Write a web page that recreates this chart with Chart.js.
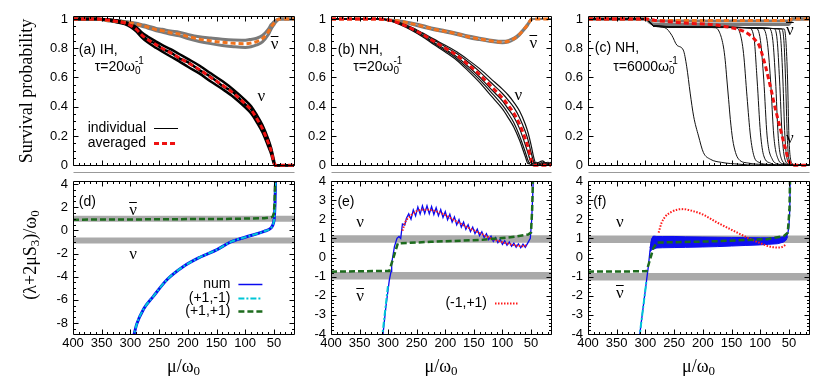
<!DOCTYPE html>
<html>
<head>
<meta charset="utf-8">
<script src="https://cdn.jsdelivr.net/npm/chart.js@4.4.0/dist/chart.umd.min.js"></script>
<style>
  body { margin: 0; background: #fff; width: 830px; height: 386px; overflow: hidden; position: relative; }
  canvas { position: absolute; }
</style>
</head>
<body>
<canvas id="ca" width="300" height="178" style="left:0;top:0"></canvas>
<canvas id="cb" width="260" height="178" style="left:300px;top:0"></canvas>
<canvas id="cc" width="270" height="178" style="left:560px;top:0"></canvas>
<canvas id="cd" width="300" height="218" style="left:0;top:168px"></canvas>
<canvas id="ce" width="260" height="218" style="left:300px;top:168px"></canvas>
<canvas id="cf" width="270" height="218" style="left:560px;top:168px"></canvas>
<script>
// tick labels
const X_TICKS = [400, 350, 300, 250, 200, 150, 100, 50];
const P_TICKS = [0, 0.2, 0.4, 0.6, 0.8, 1];
const D_TICKS = [4, 2, 0, -2, -4, -6, -8];
const E_TICKS = [4, 3, 2, 1, 0, -1, -2, -3, -4];

// (a) IH, tau=20
const A_X = [400, 360, 340, 330, 310, 300, 290, 280, 270, 255, 245, 230, 215, 200, 180, 160, 140, 120, 100, 90, 80, 70, 60, 55, 50, 48, 40, 30, 20, 15];
const A_NU_AVG = [1, 1, 0.995, 0.988, 0.972, 0.955, 0.93, 0.89, 0.86, 0.823, 0.8, 0.768, 0.735, 0.7, 0.655, 0.6, 0.548, 0.49, 0.42, 0.38, 0.32, 0.25, 0.155, 0.1, 0.02, 0, 0, 0, 0, 0];
const A_NU_HI = [1, 1, 0.998, 0.993, 0.98, 0.965, 0.945, 0.907, 0.88, 0.845, 0.823, 0.793, 0.76, 0.727, 0.682, 0.628, 0.575, 0.515, 0.445, 0.405, 0.345, 0.275, 0.18, 0.12, 0.035, 0, 0, 0, 0, 0];
const A_NU_MID = [1, 1, 0.995, 0.99, 0.97, 0.958, 0.928, 0.895, 0.855, 0.83, 0.795, 0.772, 0.73, 0.705, 0.65, 0.605, 0.543, 0.495, 0.415, 0.385, 0.315, 0.255, 0.15, 0.105, 0.02, 0, 0, 0, 0, 0];
const A_NU_LO = [1, 1, 0.992, 0.983, 0.964, 0.945, 0.915, 0.873, 0.84, 0.801, 0.777, 0.743, 0.71, 0.673, 0.628, 0.572, 0.521, 0.465, 0.395, 0.355, 0.295, 0.225, 0.13, 0.08, 0.01, 0, 0, 0, 0, 0];
const A_BAR_AVG = [1, 1, 0.99, 0.985, 0.978, 0.973, 0.965, 0.955, 0.945, 0.927, 0.92, 0.906, 0.897, 0.88, 0.862, 0.85, 0.84, 0.833, 0.83, 0.835, 0.845, 0.865, 0.91, 0.945, 0.97, 0.98, 1, 1, 1, 1];
const A_BAR_HI = [1, 1, 0.992, 0.988, 0.982, 0.977, 0.97, 0.961, 0.952, 0.935, 0.929, 0.917, 0.909, 0.894, 0.878, 0.869, 0.861, 0.856, 0.855, 0.86, 0.868, 0.887, 0.928, 0.96, 0.98, 0.988, 1, 1, 1, 1];
const A_BAR_LO = [1, 1, 0.988, 0.982, 0.974, 0.968, 0.96, 0.949, 0.938, 0.919, 0.911, 0.895, 0.885, 0.866, 0.846, 0.831, 0.819, 0.81, 0.805, 0.81, 0.822, 0.843, 0.892, 0.93, 0.96, 0.972, 1, 1, 1, 1];

// (b) NH, tau=20
const B_X = [400, 320, 300, 280, 260, 240, 220, 200, 180, 160, 140, 120, 100, 90, 80, 70, 60, 55, 50, 45, 40, 30, 20, 15];
const B_NU_AVG = [1, 1, 0.993, 0.97, 0.935, 0.895, 0.847, 0.8, 0.752, 0.688, 0.62, 0.54, 0.46, 0.41, 0.355, 0.28, 0.18, 0.12, 0.04, 0, 0, 0, 0, 0];
const B_NU_1 = [1, 1, 0.995, 0.975, 0.945, 0.905, 0.862, 0.82, 0.775, 0.72, 0.66, 0.59, 0.52, 0.48, 0.43, 0.37, 0.28, 0.22, 0.14, 0.05, 0, 0.01, 0, 0.01];
const B_NU_2 = [1, 1, 0.994, 0.972, 0.94, 0.9, 0.855, 0.81, 0.763, 0.705, 0.64, 0.565, 0.49, 0.445, 0.395, 0.325, 0.23, 0.17, 0.09, 0.02, 0, 0.02, 0.01, 0];
const B_NU_3 = [1, 1, 0.993, 0.968, 0.932, 0.89, 0.84, 0.792, 0.742, 0.675, 0.603, 0.52, 0.44, 0.385, 0.33, 0.25, 0.14, 0.08, 0.02, 0.01, 0.02, 0, 0.01, 0.02];
const B_NU_4 = [1, 1, 0.992, 0.965, 0.928, 0.885, 0.833, 0.783, 0.73, 0.66, 0.585, 0.5, 0.41, 0.355, 0.29, 0.2, 0.09, 0.03, 0, 0.02, 0, 0.01, 0.02, 0];
const B_NU_5 = [1, 1, 0.991, 0.962, 0.924, 0.878, 0.825, 0.774, 0.718, 0.645, 0.566, 0.475, 0.385, 0.325, 0.26, 0.17, 0.06, 0.01, 0.02, 0, 0.01, 0.03, 0, 0.01];
const B_BAR_AVG = [1, 1, 0.993, 0.985, 0.968, 0.95, 0.93, 0.915, 0.898, 0.878, 0.863, 0.85, 0.842, 0.847, 0.864, 0.895, 0.94, 0.965, 0.995, 1, 1, 1, 1, 1];
const B_BAR_HI = [1, 1, 0.996, 0.99, 0.975, 0.958, 0.938, 0.923, 0.906, 0.886, 0.871, 0.858, 0.85, 0.855, 0.872, 0.903, 0.948, 0.973, 1, 1, 1, 1, 1, 1];
const B_BAR_LO = [1, 1, 0.99, 0.98, 0.961, 0.942, 0.922, 0.907, 0.89, 0.87, 0.855, 0.842, 0.834, 0.839, 0.856, 0.887, 0.932, 0.957, 0.99, 1, 1, 1, 1, 1];

// (c) NH, tau=6000
const C_AVG_X = [400, 300, 283, 250, 225, 190, 155, 140, 126, 115, 108, 102, 97, 91, 85, 80, 76, 72, 67.5, 63, 59, 55, 53, 50, 47, 45, 15];
const C_AVG_Y = [1, 1, 0.99, 0.978, 0.97, 0.964, 0.944, 0.93, 0.91, 0.88, 0.853, 0.82, 0.763, 0.68, 0.583, 0.5, 0.425, 0.36, 0.289, 0.22, 0.154, 0.1, 0.063, 0.03, 0.007, 0, 0];
const C_NU_1 = [[400, 1], [300, 1], [292, 0.975], [283, 0.949], [266, 0.94], [254, 0.888], [245, 0.82], [234, 0.787], [228, 0.673], [222, 0.493], [216, 0.335], [207.5, 0.2], [199, 0.087], [187, 0.041], [167, 0.019], [137, 0.007], [108, 0], [15, 0]];
const C_NU_2 = [[400, 1], [300, 1], [292, 0.975], [285, 0.952], [220, 0.945], [178, 0.94], [170, 0.9], [164, 0.808], [161, 0.718], [158, 0.583], [155, 0.448], [152, 0.312], [148, 0.177], [143, 0.087], [137.5, 0.041], [120, 0.014], [97, 0.005], [80, 0], [15, 0]];
const C_NU_3 = [[400, 1], [300, 1], [292, 0.975], [285, 0.952], [200, 0.946], [143, 0.94], [135, 0.9], [129, 0.763], [123, 0.47], [117, 0.2], [111, 0.064], [102, 0.019], [85, 0.005], [70, 0], [15, 0]];
const C_NU_4 = [[400, 1], [300, 1], [292, 0.975], [285, 0.952], [200, 0.946], [120, 0.94], [111, 0.876], [105.4, 0.583], [99.6, 0.222], [93.8, 0.064], [82, 0.014], [70, 0], [15, 0]];
const C_NU_5 = [[400, 1], [300, 1], [292, 0.975], [285, 0.952], [200, 0.945], [108, 0.938], [99.6, 0.853], [93.8, 0.583], [88, 0.2], [79, 0.041], [67.5, 0.007], [60, 0], [15, 0]];
const C_NU_6 = [[400, 1], [300, 1], [292, 0.975], [285, 0.952], [200, 0.944], [97, 0.936], [88, 0.853], [82, 0.583], [76.3, 0.2], [68.7, 0.041], [58.8, 0.007], [50, 0], [15, 0]];
const C_NU_7 = [[400, 1], [300, 1], [292, 0.975], [285, 0.95], [200, 0.943], [85, 0.935], [78, 0.853], [73.3, 0.583], [68.7, 0.2], [62.8, 0.041], [53, 0.007], [46, 0], [15, 0]];
const C_NU_8 = [[400, 1], [300, 1], [292, 0.975], [285, 0.95], [200, 0.943], [76, 0.934], [70.4, 0.853], [66.3, 0.583], [61.7, 0.2], [57, 0.041], [50, 0.007], [45, 0], [15, 0]];
const C_NU_9 = [[400, 1], [300, 1], [292, 0.975], [285, 0.95], [200, 0.942], [68.7, 0.933], [64, 0.853], [60.5, 0.583], [57, 0.2], [53, 0.041], [47, 0.007], [44, 0], [15, 0]];
const C_NU_10 = [[400, 1], [300, 1], [292, 0.975], [285, 0.95], [200, 0.942], [62.8, 0.932], [58.8, 0.853], [55.8, 0.583], [52.9, 0.2], [50, 0.041], [45.3, 0.007], [43, 0], [15, 0]];
const C_NU_11 = [[400, 1], [300, 1], [292, 0.975], [285, 0.95], [200, 0.941], [58.2, 0.931], [55.3, 0.853], [52.3, 0.583], [50, 0.2], [47.1, 0.041], [43, 0.007], [41, 0], [15, 0]];
const C_BAR_X = [400, 300, 292, 285, 200, 100, 60, 50, 47, 45, 30, 15];
const C_BAR_AVG = [1, 1, 0.995, 0.99, 0.99, 0.99, 0.99, 0.99, 0.995, 1, 1, 1];
const C_BAR_HI = [1, 1, 0.99, 0.985, 0.985, 0.985, 0.985, 0.985, 0.99, 1, 1, 1];
const C_BAR_LO = [1, 1, 0.975, 0.962, 0.962, 0.962, 0.962, 0.962, 0.98, 1, 1, 1];

// (d)
const D_NUM_X = [296, 289, 277, 260, 236, 207, 178, 149, 125, 90, 67, 55, 52, 50, 49, 48, 47.3, 47];
const D_NUM_Y = [-9.5, -8.1, -6.8, -5.7, -4.25, -3.1, -2.3, -1.66, -1.0, -0.45, -0.09, 0.2, 0.45, 0.8, 1.3, 2.4, 4, 5];
const D_PM_X = [296, 289, 277, 260, 236, 207, 178, 149, 125, 90, 67, 55, 52, 50, 49, 48, 47.3, 47];
const D_PM_Y = [-9.5, -8.1, -6.8, -5.7, -4.25, -3.1, -2.3, -1.66, -1.0, -0.45, -0.09, 0.2, 0.45, 0.8, 1.3, 2.4, 4, 5];
const D_PP_X = [400, 300, 200, 125, 67, 55, 52, 50, 49, 48, 47.5];
const D_PP_Y = [0.92, 0.94, 0.97, 0.99, 1.05, 1.12, 1.2, 1.5, 2.3, 3.8, 5];

// (e)
const E_NUM_X = [310, 304, 298, 295, 293.8, 289, 284.5, 281, 278, 275, 271, 268, 264, 260, 256, 252, 248, 244, 240, 236, 232, 228, 224, 220, 216, 212, 208, 204, 200, 196, 192, 188, 184, 180, 176, 172, 168, 164, 160, 156, 152, 148, 144, 140, 136, 132, 128, 124, 120, 116, 112, 108, 104, 100, 96, 92, 88, 84, 80, 76, 72, 68, 64, 60, 56, 51.2, 48.8, 47.1, 46, 45.5];
const E_NUM_Y = [-4.3, -2.6, -1.2, -0.74, -0.3, 0.57, 1.0, 1.1, 1.0, 1.75, 1.7, 2.05, 2.28, 2.0, 2.49, 2.18, 2.64, 2.27, 2.7, 2.3, 2.7, 2.29, 2.67, 2.25, 2.6, 2.19, 2.51, 2.09, 2.4, 1.97, 2.26, 1.85, 2.12, 1.71, 1.98, 1.59, 1.85, 1.47, 1.71, 1.36, 1.59, 1.25, 1.48, 1.14, 1.35, 1.04, 1.24, 0.94, 1.12, 0.84, 1.04, 0.77, 0.95, 0.69, 0.87, 0.64, 0.81, 0.59, 0.75, 0.54, 0.71, 0.51, 0.7, 0.53, 0.74, 1.0, 1.96, 3.18, 4.1, 5];
const E_PM_X = [311, 300];
const E_PM_Y = [-4.3, -1.4];
const E_PP_X = [400, 298, 283, 225, 137, 79, 55, 50, 48, 46.5, 45.5];
const E_PP_Y = [-0.74, -0.7, 0.74, 0.82, 0.92, 1.08, 1.2, 1.3, 2.5, 4.2, 5];
const E_MP_X = [275, 270, 260, 250, 240, 230, 220, 210, 200, 190, 180, 170, 160, 150, 140, 130, 120, 110, 100, 90, 80, 70, 65, 60, 57];
const E_MP_Y = [1.4, 1.85, 2.2, 2.42, 2.5, 2.5, 2.45, 2.35, 2.22, 2.05, 1.88, 1.72, 1.56, 1.42, 1.28, 1.14, 1.0, 0.9, 0.8, 0.72, 0.65, 0.6, 0.59, 0.62, 0.68];

// (f)
const F_NUM_X = [311, 298, 295, 292, 289, 286];
const F_NUM_Y = [-4.3, -1.2, -0.5, 0.35, 0.96, 1.1];
const F_SPIKE_X = [55, 52, 50, 48.5, 47.5];
const F_SPIKE_Y = [1.1, 1.25, 1.6, 2.5, 5];
const F_BAND_X = [292, 289, 286, 280, 270, 250, 230, 200, 175, 150, 125, 100, 85, 70, 60, 55, 52];
const F_BAND_HI = [0.5, 0.95, 1.12, 1.1, 1.1, 1.1, 1.08, 1.07, 1.06, 1.05, 1.04, 1.03, 1.03, 1.05, 1.08, 1.15, 1.28];
const F_BAND_LO = [0.3, 0.4, 0.45, 0.5, 0.51, 0.52, 0.53, 0.55, 0.57, 0.6, 0.63, 0.66, 0.69, 0.72, 0.8, 0.9, 1.1];
const F_PM_X = [311, 298];
const F_PM_Y = [-4.3, -1.2];
const F_PP_X = [400, 298, 286, 280, 175, 88, 59, 52, 49, 47.5];
const F_PP_Y = [-0.74, -0.72, 0.5, 0.78, 0.85, 0.96, 1.12, 1.3, 2.5, 5];
const F_MP_X = [277, 272, 265, 255, 245, 234, 220, 200, 175, 150, 130, 117, 100, 88, 78, 70, 62, 56];
const F_MP_Y = [1.3, 1.8, 2.15, 2.38, 2.5, 2.53, 2.45, 2.25, 1.83, 1.45, 1.15, 0.96, 0.75, 0.61, 0.54, 0.52, 0.55, 0.66];

// gray reference bands (nu, nubar)
const BAND_X = [400, 15];
const D_BANDS = [0.99, -0.87];
const E_BANDS = [0.97, -0.95];
const F_BANDS = [0.95, -1.0];

const SANS = '"Liberation Sans", Arial, Helvetica, sans-serif';
const SERIF = '"Liberation Serif", "Times New Roman", serif';
const RED = '#ee1111', ORANGE = '#f0731e', GREY = '#7a7a7a', BAND = '#aaaaaa';
const BLUE = '#0a0aef', CYAN = '#00c6d6', GREEN = '#1d6b1d', DOTRED = '#ff1a1a';
Chart.defaults.font.family = SANS;

function ln(label, xs, ys, color, width, dash, more) {
  const data = ys ? xs.map((x, i) => ({x, y: ys[i]})) : xs.map(([x, y]) => ({x, y}));
  return Object.assign({
    label, data, borderColor: color, backgroundColor: color, borderWidth: width,
    borderDash: dash || [], pointRadius: 0, fill: false, tension: 0,
    clip: {left: 0, right: 0, top: 0, bottom: 0}
  }, more);
}
const TOP = {cubicInterpolationMode: 'monotone', clip: {left: 0, right: 0, top: 0, bottom: 3}};
const SMOOTH = {cubicInterpolationMode: 'monotone'};

// draws text pieces with sub/superscripts; stacked pieces start where the previous one started
function rich(ctx, x, y, parts, fam, draw) {
  let start = x, end = x;
  for (const [t, size, dy = 0, stack = false] of parts) {
    ctx.font = size + 'px ' + fam;
    const w = ctx.measureText(t).width;
    const sx = stack ? start : end;
    if (draw) ctx.fillText(t, sx, y + dy);
    if (!stack) start = end;
    end = Math.max(end, sx + w);
  }
  return end - x;
}

// gnuplot style frame, inward ticks, labels, keys
const deco = {
  id: 'deco',
  afterDatasetsDraw(chart, args, o) {
    const {ctx, chartArea: a} = chart;
    const sx = chart.scales.x, sy = chart.scales.y;
    const L = Math.round(a.left) + 0.5, R = Math.round(a.right) + 0.5;
    const T = Math.round(a.top) + 0.5, B = Math.round(a.bottom) + 0.5;
    ctx.save();
    ctx.strokeStyle = '#000';
    ctx.lineWidth = 1;
    ctx.setLineDash([]);
    ctx.beginPath();
    ctx.rect(L, T, R - L, B - T);
    for (let v = 20; v < 400; v += 10) {
      const p = Math.round(sx.getPixelForValue(v)) + 0.5, n = v % 50 ? 2.5 : 5;
      ctx.moveTo(p, B); ctx.lineTo(p, B - n);
      ctx.moveTo(p, T); ctx.lineTo(p, T + n);
    }
    const k0 = Math.ceil(sy.min / o.yMinor - 1e-6), k1 = Math.floor(sy.max / o.yMinor + 1e-6);
    for (let k = k0; k <= k1; k++) {
      const v = k * o.yMinor, r = v / o.yMajor;
      const n = Math.abs(r - Math.round(r)) < 1e-6 ? 5 : 2.5;
      const p = Math.round(sy.getPixelForValue(v)) + 0.5;
      ctx.moveTo(L, p); ctx.lineTo(L + n, p);
      ctx.moveTo(R, p); ctx.lineTo(R - n, p);
    }
    ctx.stroke();

    ctx.fillStyle = '#000';
    for (const t of o.texts || []) {
      const px = sx.getPixelForValue(t.x), py = sy.getPixelForValue(t.y);
      const fam = t.serif ? SERIF : SANS;
      const w = rich(ctx, 0, 0, t.parts, fam, false);
      const x0 = t.center ? px - w / 2 : px;
      ctx.textBaseline = t.serif ? 'alphabetic' : 'middle';
      rich(ctx, x0, t.serif ? py + 4 : py, t.parts, fam, true);
      if (t.bar) {
        ctx.beginPath();
        ctx.moveTo(x0, Math.round(py - 9) + 0.5);
        ctx.lineTo(x0 + w, Math.round(py - 9) + 0.5);
        ctx.stroke();
      }
    }

    ctx.textBaseline = 'middle';
    for (const g of o.legend || []) {
      const ds = chart.data.datasets.find(d => d.label === g.label);
      const px = sx.getPixelForValue(g.x), py = Math.round(sy.getPixelForValue(g.y)) + 0.5;
      ctx.font = '14px ' + SANS;
      ctx.textAlign = 'right';
      ctx.fillText(g.label, px, py);
      ctx.textAlign = 'left';
      ctx.save();
      ctx.strokeStyle = ds.borderColor;
      ctx.lineWidth = g.w || ds.borderWidth;
      ctx.setLineDash(ds.borderDash || []);
      ctx.beginPath();
      ctx.moveTo(px + 8, py); ctx.lineTo(px + 32, py);
      ctx.stroke();
      ctx.restore();
    }

    if (o.yTitle) {
      ctx.save();
      ctx.translate(o.yTitle.x, o.yTitle.y);
      ctx.rotate(-Math.PI / 2);
      const w = rich(ctx, 0, 0, o.yTitle.parts, SERIF, false);
      rich(ctx, -w / 2, 0, o.yTitle.parts, SERIF, true);
      ctx.restore();
    }
    if (o.xTitle) {
      const w = rich(ctx, 0, 0, o.xTitle.parts, SERIF, false);
      rich(ctx, (a.left + a.right) / 2 - w / 2, o.xTitle.y, o.xTitle.parts, SERIF, true);
    }
    if (o.sep) {
      ctx.strokeStyle = '#999';
      ctx.beginPath();
      ctx.moveTo(L, 4.5); ctx.lineTo(R, 4.5);
      ctx.stroke();
    }
    ctx.restore();
  }
};

function panel(id, datasets, yMin, yMax, yTicks, yWidth, xLabels, pad, opts) {
  new Chart(document.getElementById(id), {
    type: 'line',
    data: {datasets},
    options: {
      responsive: false,
      animation: false,
      events: [],
      layout: {padding: pad},
      plugins: {legend: {display: false}, tooltip: {enabled: false}, deco: opts},
      scales: {
        x: {
          type: 'linear', min: 15, max: 400, reverse: true,
          grid: {display: false, drawTicks: false}, border: {display: false},
          afterBuildTicks: s => { s.ticks = X_TICKS.map(v => ({value: v})); },
          afterFit: s => { s.height = xLabels ? 52 : 11; },
          ticks: {display: xLabels, color: '#000', font: {size: 13}, padding: 2, autoSkip: false, maxRotation: 0, callback: v => String(v)}
        },
        y: {
          type: 'linear', min: yMin, max: yMax,
          grid: {display: false, drawTicks: false}, border: {display: false},
          afterBuildTicks: s => { s.ticks = yTicks.map(v => ({value: v})); },
          afterFit: s => { s.width = yWidth; },
          ticks: {color: '#000', font: {size: 13}, padding: 5, callback: v => String(v)}
        }
      }
    },
    plugins: [deco]
  });
}

const tau20 = [['τ=20ω', 14], ['0', 10, 4], ['-1', 10, -6, true]];
const nu = (x, y, bar) => ({x, y, parts: [['ν', 17]], serif: true, center: true, bar});
const muTitle = {y: 199, parts: [['μ/ω', 18], ['0', 13, 5]]};

// top row: survival probability
panel('ca', [
  ln('averaged', A_X, A_NU_AVG, RED, 3, [5, 3], TOP),
  ln('averaged ν̄', A_X, A_BAR_AVG, ORANGE, 3, [5, 3], TOP),
  ln('individual ν 1', A_X, A_NU_HI, '#000', 2.5, null, TOP),
  ln('individual', A_X, A_NU_MID, '#000', 2.5, null, TOP),
  ln('individual ν 3', A_X, A_NU_LO, '#000', 2.5, null, TOP),
  ln('individual ν̄ 1', A_X, A_BAR_HI, GREY, 3, null, TOP),
  ln('individual ν̄ 2', A_X, A_BAR_LO, GREY, 3, null, TOP)
], 0, 1.02, P_TICKS, 73, false, {top: 16, right: 6}, {
  yMajor: 0.2, yMinor: 0.05,
  texts: [
    {x: 390, y: 0.79, parts: [['(a) IH,', 14]]},
    {x: 362, y: 0.668, parts: tau20},
    nu(48.8, 0.824, true), nu(72, 0.463, false)
  ],
  legend: [{label: 'individual', x: 272.8, y: 0.255, w: 1}, {label: 'averaged', x: 272.8, y: 0.154}],
  yTitle: {x: 27, y: 91, parts: [['Survival probability', 18]]}
});

panel('cb', [
  ln('averaged', B_X, B_NU_AVG, RED, 3, [5, 3], TOP),
  ln('averaged ν̄', B_X, B_BAR_AVG, ORANGE, 3, [5, 3], TOP),
  ln('individual 1', B_X, B_NU_1, '#111', 1.2, null, TOP),
  ln('individual 2', B_X, B_NU_2, '#111', 1.2, null, TOP),
  ln('individual 3', B_X, B_NU_3, '#111', 1.2, null, TOP),
  ln('individual 4', B_X, B_NU_4, '#111', 1.2, null, TOP),
  ln('individual 5', B_X, B_NU_5, '#111', 1.2, null, TOP),
  ln('individual ν̄ 1', B_X, B_BAR_HI, GREY, 2, null, TOP),
  ln('individual ν̄ 2', B_X, B_BAR_LO, GREY, 2, null, TOP)
], 0, 1.02, P_TICKS, 31, false, {top: 16, right: 9}, {
  yMajor: 0.2, yMinor: 0.05,
  texts: [
    {x: 388, y: 0.79, parts: [['(b) NH,', 14]]},
    {x: 361, y: 0.668, parts: tau20},
    nu(46, 0.83, true), nu(72, 0.474, false)
  ]
});

panel('cc', [
  ln('averaged', C_AVG_X, C_AVG_Y, RED, 3, [5, 3], TOP),
  ln('averaged ν̄', C_BAR_X, C_BAR_AVG, ORANGE, 3, [5, 3], TOP),
  ...[C_NU_1, C_NU_2, C_NU_3, C_NU_4, C_NU_5, C_NU_6, C_NU_7, C_NU_8, C_NU_9, C_NU_10, C_NU_11]
    .map((c, i) => ln('individual ' + (i + 1), c, null, '#111', 1, null, TOP)),
  ln('individual ν̄ 1', C_BAR_X, C_BAR_HI, GREY, 3, null, TOP),
  ln('individual ν̄ 2', C_BAR_X, C_BAR_LO, GREY, 3, null, TOP)
], 0, 1.02, P_TICKS, 28, false, {top: 16, right: 21}, {
  yMajor: 0.2, yMinor: 0.05,
  texts: [
    {x: 388.3, y: 0.797, parts: [['(c) NH,', 14]]},
    {x: 356, y: 0.673, parts: [['τ=6000ω', 14], ['0', 10, 4], ['-1', 10, -6, true]]},
    nu(48.3, 0.92, true), nu(48.3, 0.176, false)
  ]
});

// bottom row: (lambda + 2 mu S3) / omega0
panel('cd', [
  ln('(+1,+1)', D_PP_X, D_PP_Y, GREEN, 2.5, [6, 3]),
  ln('(+1,-1)', D_PM_X, D_PM_Y, CYAN, 2, [6, 2, 2, 2], SMOOTH),
  ln('num', D_NUM_X, D_NUM_Y, BLUE, 3, null, SMOOTH),
  ln('band ν̄', BAND_X, [D_BANDS[0], D_BANDS[0]], BAND, 6),
  ln('band ν', BAND_X, [D_BANDS[1], D_BANDS[1]], BAND, 6)
], -8.95, 4.26, D_TICKS, 73, true, {top: 13, right: 6}, {
  yMajor: 2, yMinor: 0.5, sep: true,
  texts: [
    {x: 390, y: 2.47, parts: [['(d)', 14]]},
    nu(295.5, 1.64, true), nu(295.5, -2.09, false)
  ],
  legend: [{label: 'num', x: 125.8, y: -4.59, w: 1.5}, {label: '(+1,-1)', x: 125.8, y: -5.8}, {label: '(+1,+1)', x: 125.8, y: -7.0}],
  yTitle: {x: 31, y: 87, parts: [['(λ+2μS', 18], ['3', 13, 5], [')/ω', 18], ['0', 13, 5]]},
  xTitle: muTitle
});

panel('ce', [
  ln('(+1,+1)', E_PP_X, E_PP_Y, GREEN, 2.5, [6, 3]),
  ln('(+1,-1)', E_PM_X, E_PM_Y, CYAN, 2, [6, 2, 2, 2]),
  ln('(-1,+1)', E_MP_X, E_MP_Y, DOTRED, 2, [1.5, 1.5], SMOOTH),
  ln('num', E_NUM_X, E_NUM_Y, BLUE, 1.3),
  ln('band ν', BAND_X, [E_BANDS[0], E_BANDS[0]], BAND, 7.5),
  ln('band ν̄', BAND_X, [E_BANDS[1], E_BANDS[1]], BAND, 7.5)
], -4, 4, E_TICKS, 31, true, {top: 13, right: 9}, {
  yMajor: 1, yMinor: 0.2, sep: true,
  texts: [
    {x: 388.8, y: 2.9, parts: [['(e)', 14]]},
    nu(349, 1.8, false), nu(349, -2.05, true)
  ],
  legend: [{label: '(-1,+1)', x: 127, y: -2.38}],
  xTitle: muTitle
});

panel('cf', [
  ln('(+1,+1)', F_PP_X, F_PP_Y, GREEN, 2.5, [6, 3]),
  ln('(-1,+1)', F_MP_X, F_MP_Y, DOTRED, 2, [1.5, 1.5], SMOOTH),
  ln('(+1,-1)', F_PM_X, F_PM_Y, CYAN, 2, [6, 2, 2, 2]),
  ln('num', F_NUM_X, F_NUM_Y, BLUE, 1.3),
  ln('num spike', F_SPIKE_X, F_SPIKE_Y, BLUE, 1.3),
  ln('num upper', F_BAND_X, F_BAND_HI, BLUE, 1, null, {fill: '+1', backgroundColor: '#0f0ff0'}),
  ln('num lower', F_BAND_X, F_BAND_LO, BLUE, 1),
  ln('band ν', BAND_X, [F_BANDS[0], F_BANDS[0]], BAND, 7.5),
  ln('band ν̄', BAND_X, [F_BANDS[1], F_BANDS[1]], BAND, 7.5)
], -4, 4, E_TICKS, 28, true, {top: 13, right: 21}, {
  yMajor: 1, yMinor: 0.2, sep: true,
  texts: [
    {x: 391, y: 2.9, parts: [['(f)', 14]]},
    nu(344.5, 1.8, false), nu(344.5, -1.9, true)
  ],
  xTitle: muTitle
});
</script>
</body>
</html>
